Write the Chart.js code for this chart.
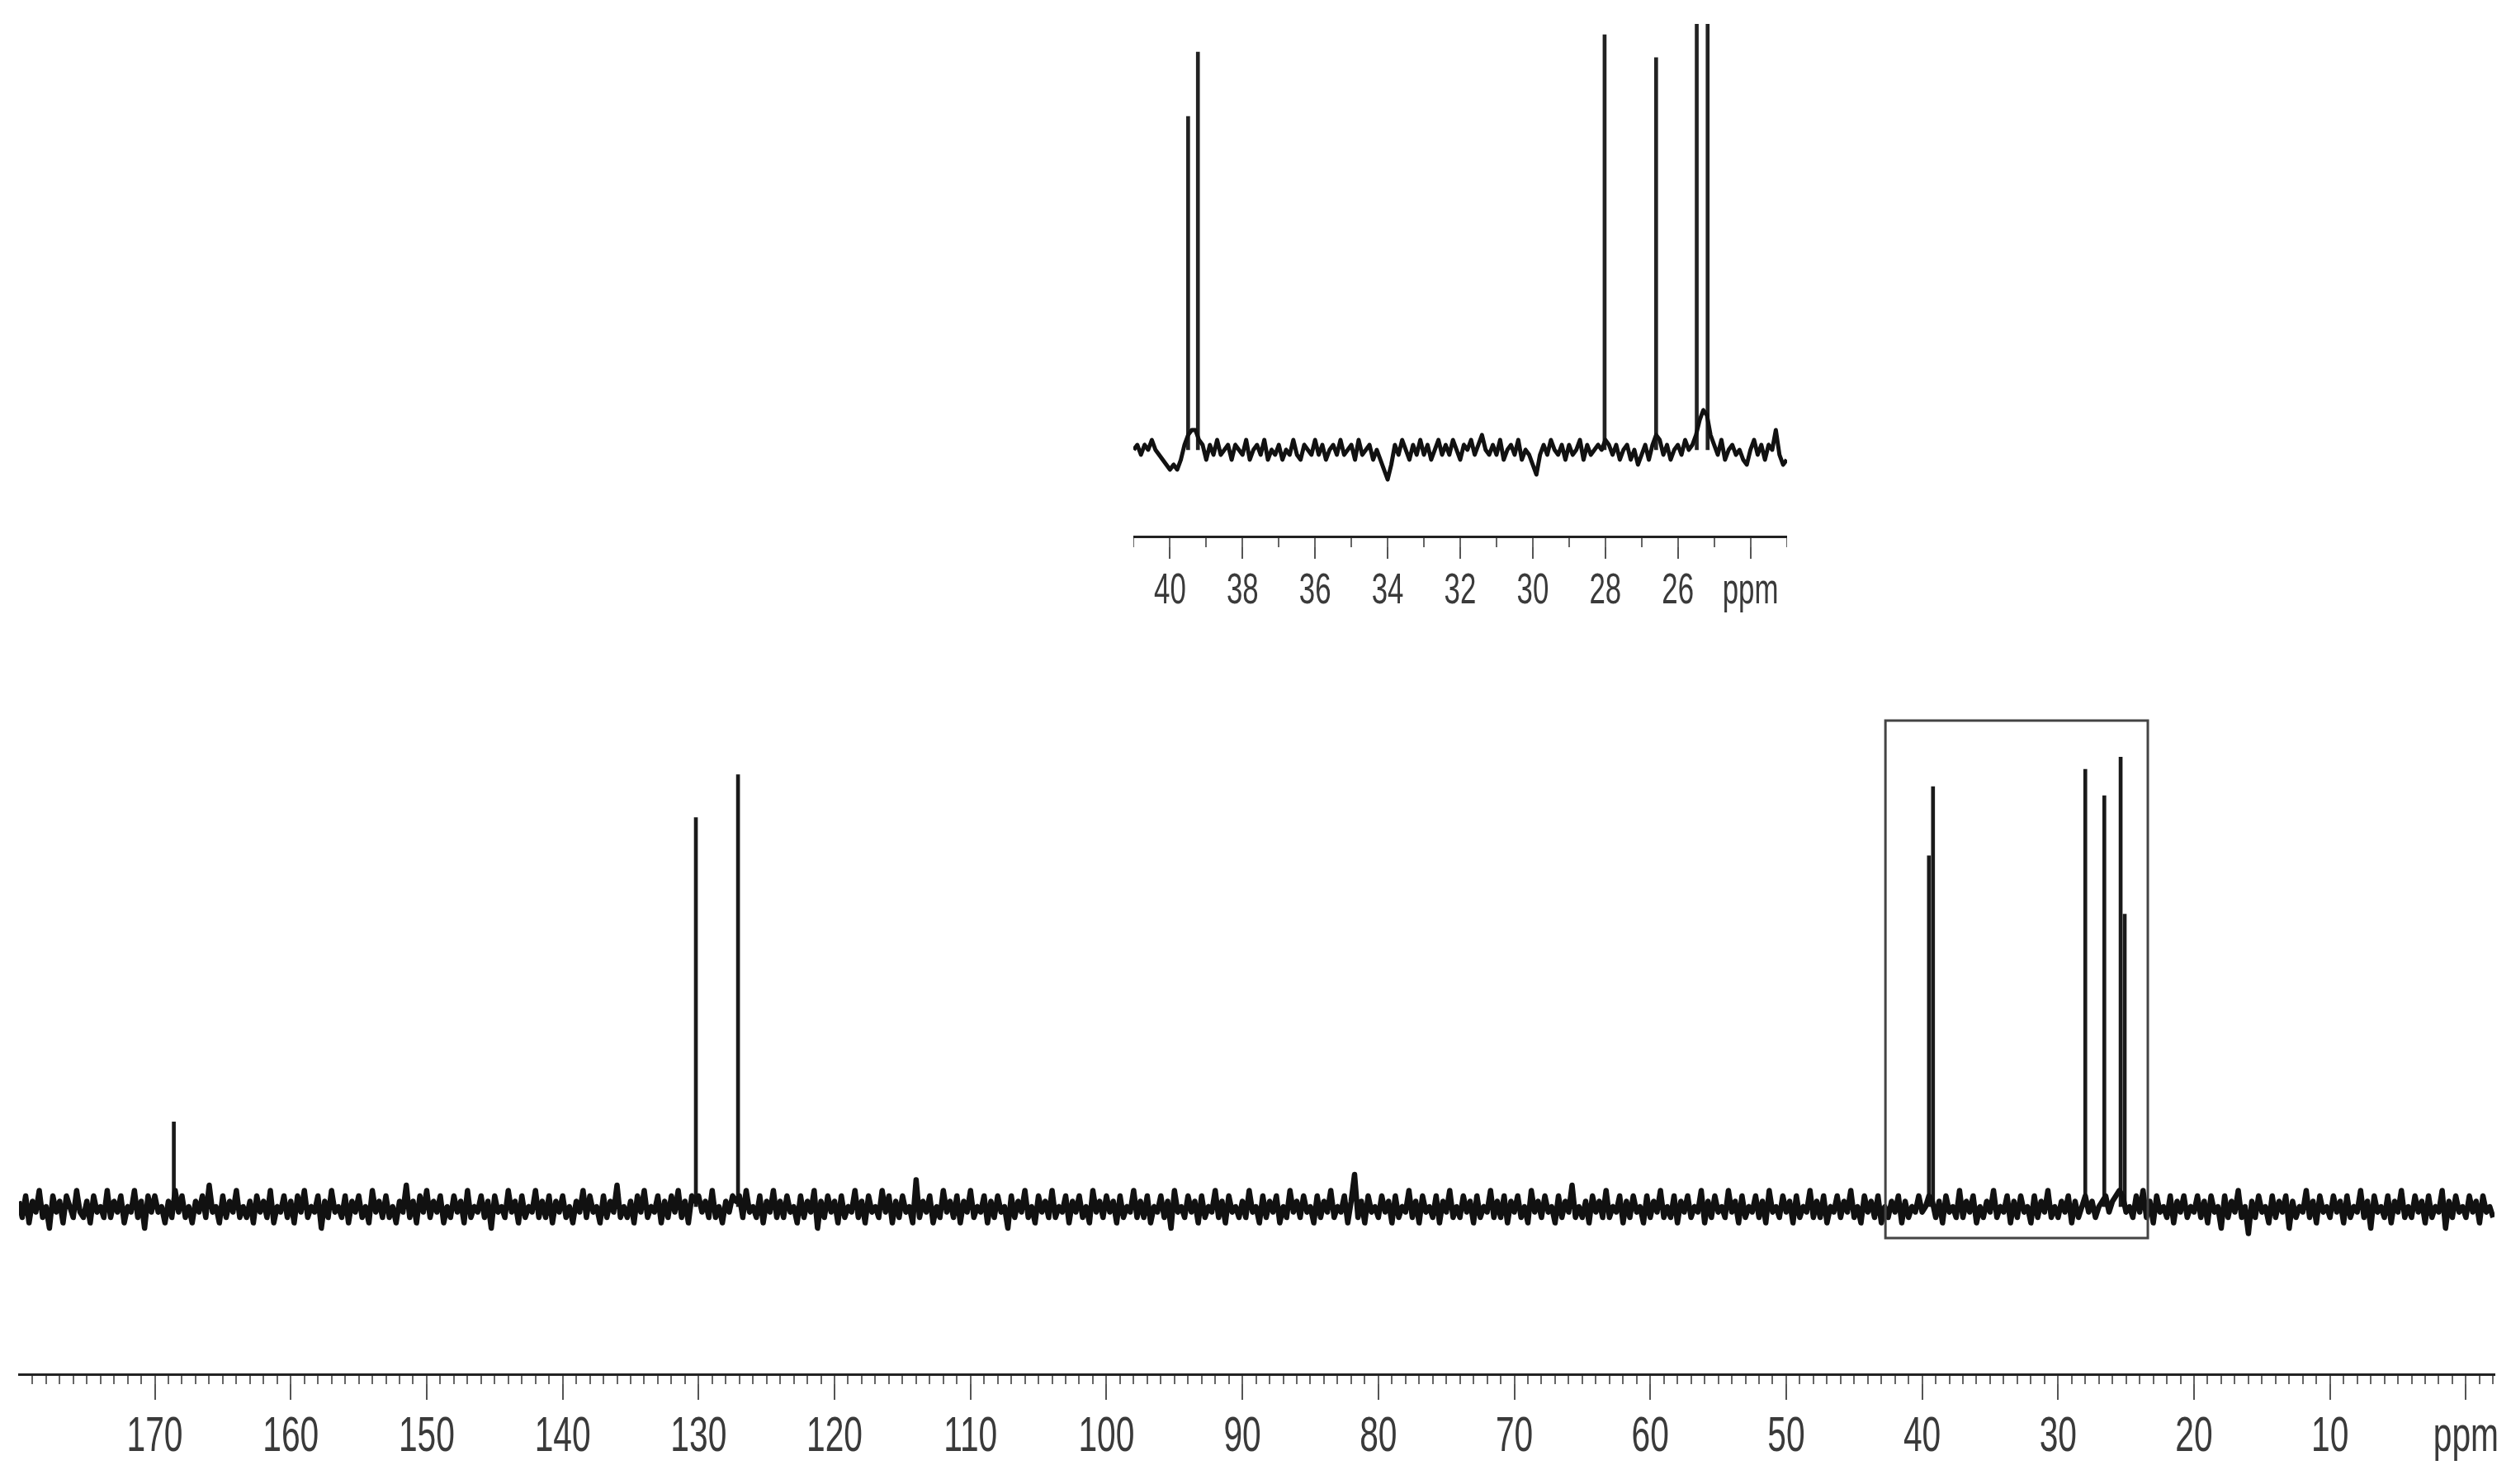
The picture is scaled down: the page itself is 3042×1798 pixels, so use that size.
<!DOCTYPE html>
<html>
<head>
    <meta charset="UTF-8">
    <script src="https://cdn.jsdelivr.net/npm/chart.js"></script>
    <style>
        body { margin: 0; background: #fff; overflow: hidden; }
        .chart-box { position: absolute; }
        #mainBox { left: 0; top: 0; width: 3042px; height: 1798px; }
        #insetBox { left: 1373px; top: 0; width: 792px; height: 760px; }
    </style>
</head>
<body>
    <div id="mainBox" class="chart-box"><canvas id="mainChart"></canvas></div>
    <div id="insetBox" class="chart-box"><canvas id="insetChart"></canvas></div>

    <script>
        // full spectrum: noise sampled every 0.25 ppm starting at 180 ppm (one row = 10 ppm)
        const mainNoiseStart = 180;
        const mainNoiseStep = -0.25;
        const mainNoise = [
            1,-2,2,-3,1,-1,3,-2,0,-4,2,-1,1,-3,2,0,-2,3,-1,-2,1,-3,2,-1,0,-2,3,-2,1,-1,2,-3,0,-1,3,-2,1,-4,2,-1,
            2,-1,0,-3,1,-2,3,-1,2,-2,0,-3,1,-1,2,-2,4,-1,0,-3,2,-2,1,-1,3,-2,0,-2,1,-3,2,-1,1,-2,3,-3,0,-1,2,-2,
            1,-3,2,-1,3,-2,0,-1,2,-4,1,-2,3,-1,0,-2,2,-3,1,-1,2,-2,0,-3,3,-1,1,-2,2,-2,0,-3,1,-1,4,-2,1,-3,2,-1,
            3,-2,1,-1,2,-3,0,-2,2,-1,1,-3,3,-2,0,-1,2,-2,1,-4,2,-1,0,-2,3,-1,1,-3,2,-2,0,-1,3,-2,1,-2,2,-3,1,-1,
            2,-2,0,-3,1,-1,3,-2,2,-1,0,-3,2,-2,1,-1,4,-2,0,-2,1,-3,2,-1,3,-2,0,-1,2,-3,1,-2,2,-1,3,-2,1,-3,2,1,
            2,-1,1,-2,3,-2,0,-3,1,-1,2,1,2,-2,3,-1,0,-2,2,-3,1,-1,3,-2,1,-2,2,-1,0,-3,2,-2,1,-1,3,-4,1,-2,2,-1,
            1,-3,2,-2,0,-1,3,-2,1,-3,2,-1,0,-2,3,-1,2,-3,1,-2,2,-1,0,-3,5,-2,1,-1,2,-3,0,-2,3,-1,1,-2,2,-3,1,-1,
            3,-2,0,-1,2,-3,1,-2,2,-1,0,-4,2,-2,1,-1,3,-2,0,-3,2,-1,1,-2,3,-2,0,-1,2,-3,1,-1,2,-2,0,-3,3,-1,1,-2,
            2,-1,1,-3,2,-2,0,-1,3,-2,1,-2,2,-3,0,-1,2,-2,1,-4,3,-1,0,-2,2,-1,1,-3,2,-2,0,-1,3,-2,1,-3,2,-1,0,-2,
            1,-2,3,-1,0,-3,2,-2,1,-1,2,-3,0,-2,3,-1,1,-2,2,-1,0,-3,2,-2,1,-1,3,-2,0,-1,2,-3,1,6,-2,1,-3,2,-1,0,
            -2,2,-1,1,-3,2,-2,0,-1,3,-2,1,-3,2,-1,0,-2,2,-3,1,-1,3,-2,0,-2,2,-1,1,-3,2,-2,0,-1,3,-2,1,-2,2,-3,1,
            -1,2,-2,0,-3,3,-1,1,-2,2,-1,0,-3,2,-2,1,-1,4,-2,0,-2,1,-3,2,-1,1,-2,3,-2,0,-1,2,-3,1,-2,2,-1,0,-3,2,
            -2,1,-1,3,-2,0,-2,2,-3,1,-1,2,-2,0,-1,3,-3,1,-2,2,-1,0,-2,3,-1,1,-3,2,-2,0,-1,2,-2,1,-3,3,-1,0,-2,2,
            -1,1,-3,2,-2,0,-1,3,-2,1,-2,2,-3,0,-1,2,-2,1,-1,3,-2,0,-3,2,-1,1,-2,2,-3,0,-2,1,-1,2,-3,1,-2,0,-1,2,
            -1,0,2,1,-2,1,-3,2,-1,0,-2,3,-2,1,-1,2,-3,0,-2,1,-1,3,-2,0,-1,2,-3,1,-2,2,-1,0,-3,2,-2,1,-1,3,-2,0,
            -2,1,-1,2,-3,1,-2,0,2,-1,1,-2,0,1,2,-1,1,2,3,2,-1,0,-2,2,-1,3,-2,1,-3,2,-1,0,-2,2,-3,1,-1,2,-2,0,
            -1,2,-2,1,-3,2,-1,0,-4,2,-2,1,-1,3,-2,0,-5,1,-2,2,-1,0,-3,2,-2,1,-1,2,-4,1,-2,0,-1,3,-2,1,-3,2,-1,0,
            -2,2,-1,1,-3,2,-2,0,-1,3,-2,1,-4,2,-1,0,-2,2,-3,1,-1,3,-2,0,-2,2,-1,1,-3,2,-2,0,-1,3,-4,1,-2,2,-1,0,
            -2,2,-1,1,-3,2,-1,0,-2
        ];
        const mainPeakPpm = [168.6, 130.2, 127.1, 39.5, 39.2, 28.0, 26.6, 25.4, 25.1];
        const mainPeakHeight = [15.8, 72.5, 80.5, 65.4, 78.3, 81.5, 76.6, 83.8, 54.5];

        // expanded region 41 - 23 ppm: noise every 0.1 ppm (one row = 1 ppm)
        const insetNoiseStart = 41;
        const insetNoiseStep = -0.1;
        const insetNoise = [
            0,1,-1,1,0,2,0,-1,-2,-3,
            -4,-3,-4,-2,1,3,4,4,2,1,
            -2,1,-1,2,-1,0,1,-2,1,0,
            -1,2,-2,0,1,-1,2,-2,0,-1,
            1,-2,0,-1,2,-1,-2,1,0,-1,
            2,-1,1,-2,0,1,-1,2,-1,0,
            1,-2,2,-1,0,1,-2,0,-2,-4,
            -6,-3,1,-1,2,0,-2,1,-1,2,
            -1,1,-2,0,2,-1,1,-1,2,0,
            -2,1,0,2,-1,1,3,0,-1,1,
            -1,2,-2,0,1,-1,2,-2,0,-1,
            -3,-5,-1,1,-1,2,0,-1,1,-2,
            1,-1,0,2,-2,1,-1,0,1,0,
            2,1,-1,1,-2,0,1,-2,0,-3,
            -1,1,-2,1,3,2,-1,1,-2,0,
            1,-1,2,0,1,3,6,8,7,3,
            1,-1,2,-2,0,1,-1,0,-2,-3,
            0,2,-1,1,-2,1,0,4,-1,-3,
            -2
        ];
        const insetPeakPpm = [39.5, 39.23, 28.02, 26.6, 25.48, 25.18];
        const insetPeakHeight = [67.3, 80.3, 83.8, 79.2, 95, 95];

        // frame drawn round the expanded region on the full spectrum
        const boxPpm = [42.7, 23.4];
        const boxLevel = [-5.85, 90.6];

        const mainTickLabels = { 0: 'ppm' };
        const insetTickLabels = { 24: 'ppm' };

        const fontFamily = "'Liberation Sans', Arial, sans-serif";

        function noiseTrace(start, step, noise) {
            return noise.map((v, i) => ({ x: +(start + i * step).toFixed(2), y: v })).sort((a, b) => a.x - b.x);
        }

        function peakSticks(peakPpm, peakHeight) {
            return peakPpm.map((p, i) => ({ x: p, y: peakHeight[i] }));
        }

        const zoomBox = {
            id: 'zoomBox',
            afterDatasetsDraw(chart) {
                const { ctx, scales: { x, y } } = chart;
                const x1 = x.getPixelForValue(boxPpm[0]);
                const x2 = x.getPixelForValue(boxPpm[1]);
                const y1 = y.getPixelForValue(boxLevel[1]);
                const y2 = y.getPixelForValue(boxLevel[0]);
                ctx.save();
                ctx.strokeStyle = '#444';
                ctx.lineWidth = 3;
                ctx.strokeRect(x1, y1, x2 - x1, y2 - y1);
                ctx.restore();
            }
        };

        // tick labels in a narrow face: the axis gives the ticks, the text is squeezed sideways
        const narrowLabels = {
            id: 'narrowLabels',
            afterDraw(chart, args, opts) {
                const scale = chart.scales.x;
                const ctx = chart.ctx;
                ctx.save();
                ctx.fillStyle = '#3a3a3a';
                ctx.font = opts.size + 'px ' + fontFamily;
                ctx.textAlign = 'center';
                ctx.textBaseline = 'alphabetic';
                scale.ticks.forEach((t) => {
                    const text = opts.labels[t.value] !== undefined ? opts.labels[t.value] : String(t.value);
                    ctx.save();
                    ctx.translate(scale.getPixelForValue(t.value), scale.top + opts.offset);
                    ctx.scale(opts.squeeze, 1);
                    ctx.fillText(text, 0, 0);
                    ctx.restore();
                });
                ctx.restore();
            }
        };

        function spectrumOptions(cfg) {
            return {
                responsive: true,
                maintainAspectRatio: false,
                animation: false,
                events: [],
                layout: { padding: cfg.padding },
                plugins: {
                    legend: { display: false },
                    tooltip: { enabled: false },
                    narrowLabels: { labels: cfg.labels, size: cfg.fontSize, offset: cfg.labelOffset, squeeze: cfg.squeeze }
                },
                scales: {
                    x: {
                        type: 'linear',
                        reverse: true,
                        offset: false,
                        min: cfg.min,
                        max: cfg.max,
                        weight: 1,
                        afterFit: (scale) => { scale.height = cfg.axisHeight; },
                        border: { display: true, color: '#222', width: 3 },
                        grid: { offset: false, drawOnChartArea: false, tickLength: cfg.majorLen, color: '#555', lineWidth: 2 },
                        ticks: { display: false, stepSize: cfg.majorStep, includeBounds: false }
                    },
                    xMinor: {
                        type: 'linear',
                        position: 'bottom',
                        reverse: true,
                        offset: false,
                        min: cfg.min,
                        max: cfg.max,
                        weight: 0,
                        afterFit: (scale) => { scale.height = 0; },
                        border: { display: false },
                        grid: { offset: false, drawOnChartArea: false, tickLength: cfg.minorLen, color: '#666', lineWidth: 2 },
                        ticks: { display: false, stepSize: 1, includeBounds: false }
                    },
                    y: {
                        display: false,
                        min: cfg.yMin,
                        max: cfg.yMax
                    }
                }
            };
        }

        // main spectrum: baseline at 1462 px, axis line at 1665 px, 6.5 px per unit
        new Chart(document.getElementById('mainChart'), {
            type: 'line',
            data: {
                datasets: [{
                    data: noiseTrace(mainNoiseStart, mainNoiseStep, mainNoise),
                    borderColor: '#111',
                    borderWidth: 6.5,
                    borderJoinStyle: 'round',
                    pointRadius: 0,
                    tension: 0
                }, {
                    type: 'bar',
                    data: peakSticks(mainPeakPpm, mainPeakHeight),
                    backgroundColor: '#1a1a1a',
                    barThickness: 4
                }]
            },
            options: spectrumOptions({
                padding: { left: 23, right: 20, top: 0, bottom: 0 },
                min: -2.1, max: 179.99,
                axisHeight: 133,
                majorStep: 10, majorLen: 31, minorLen: 12,
                fontSize: 59, labelOffset: 93, squeeze: 0.69,
                labels: mainTickLabels,
                yMin: -31.23, yMax: 224.9
            }),
            plugins: [zoomBox, narrowLabels]
        });

        // expanded inset: baseline at 545 px, axis line at 650 px, 6 px per unit
        new Chart(document.getElementById('insetChart'), {
            type: 'line',
            data: {
                datasets: [{
                    data: noiseTrace(insetNoiseStart, insetNoiseStep, insetNoise),
                    borderColor: '#111',
                    borderWidth: 5,
                    borderJoinStyle: 'round',
                    pointRadius: 0,
                    tension: 0
                }, {
                    type: 'bar',
                    data: peakSticks(insetPeakPpm, insetPeakHeight),
                    backgroundColor: '#222',
                    barThickness: 4
                }]
            },
            options: spectrumOptions({
                padding: { left: 0, right: 0, top: 29, bottom: 0 },
                min: 22.99, max: 41.01,
                axisHeight: 110,
                majorStep: 2, majorLen: 27, minorLen: 13,
                fontSize: 52, labelOffset: 81, squeeze: 0.67,
                labels: insetTickLabels,
                yMin: -17.5, yMax: 86
            }),
            plugins: [narrowLabels]
        });
    </script>
</body>
</html>
